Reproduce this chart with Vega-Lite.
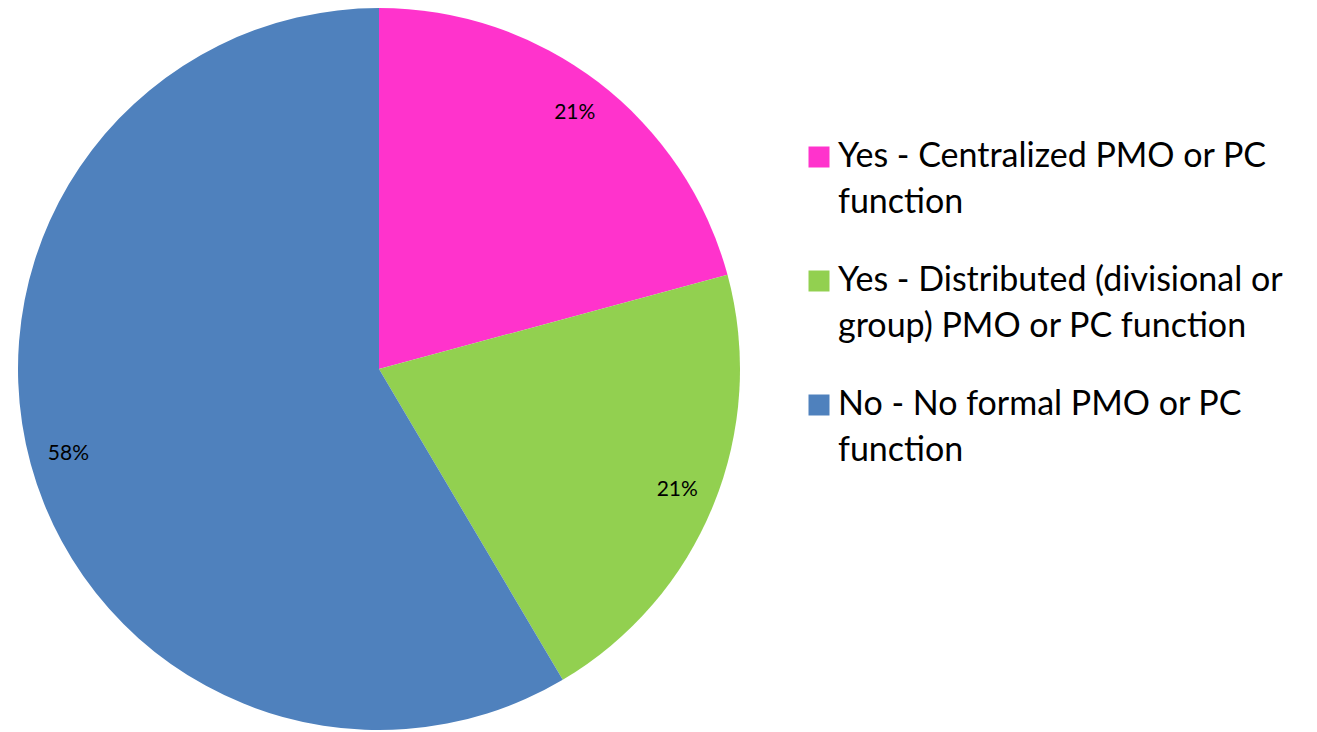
{
  "$schema": "https://vega.github.io/schema/vega-lite/v6.json",
  "width": 758,
  "height": 738,
  "padding": 0,
  "autosize": {"type": "pad"},
  "background": "white",
  "data": {
    "values": [
      {"answer": "Yes - Centralized PMO or PC function", "pct": 20.8, "ord": 1, "label": "21%"},
      {"answer": "Yes - Distributed (divisional or group) PMO or PC function", "pct": 20.7, "ord": 2, "label": "21%"},
      {"answer": "No - No formal PMO or PC function", "pct": 58.5, "ord": 3, "label": "58%"}
    ]
  },
  "encoding": {
    "theta": {"field": "pct", "type": "quantitative", "stack": true},
    "order": {"field": "ord", "type": "quantitative"}
  },
  "layer": [
    {
      "mark": {"type": "arc", "outerRadius": 361, "stroke": null},
      "encoding": {
        "color": {
          "field": "answer",
          "type": "nominal",
          "sort": ["Yes - Centralized PMO or PC function", "Yes - Distributed (divisional or group) PMO or PC function", "No - No formal PMO or PC function"],
          "scale": {
            "domain": ["Yes - Centralized PMO or PC function", "Yes - Distributed (divisional or group) PMO or PC function", "No - No formal PMO or PC function"],
            "range": ["#FF33CC", "#92D050", "#4F81BD"]
          },
          "legend": {
            "title": null,
            "orient": "none",
            "legendX": 802,
            "legendY": 140,
            "symbolType": "square",
            "symbolSize": 441,
            "symbolStrokeWidth": 0,
            "labelFont": "Lato",
            "labelFontSize": 34,
            "labelColor": "#000000",
            "labelLimit": 600,
            "labelOffset": 2,
            "labelBaseline": "alphabetic",
            "rowPadding": 44,
            "labelExpr": "datum.label == 'Yes - Centralized PMO or PC function' ? ['Yes - Centralized PMO or PC', 'function'] : datum.label == 'No - No formal PMO or PC function' ? ['No - No formal PMO or PC', 'function'] : ['Yes - Distributed (divisional or', 'group) PMO or PC function']"
          }
        }
      }
    },
    {
      "mark": {"type": "text", "radius": 322, "font": "Lato", "fontSize": 21, "color": "#000000"},
      "encoding": {
        "text": {"field": "label", "type": "nominal"}
      }
    }
  ],
  "config": {
    "view": {"stroke": null},
    "style": {"guide-label": {"lineHeight": 46, "dy": 10}}
  }
}
